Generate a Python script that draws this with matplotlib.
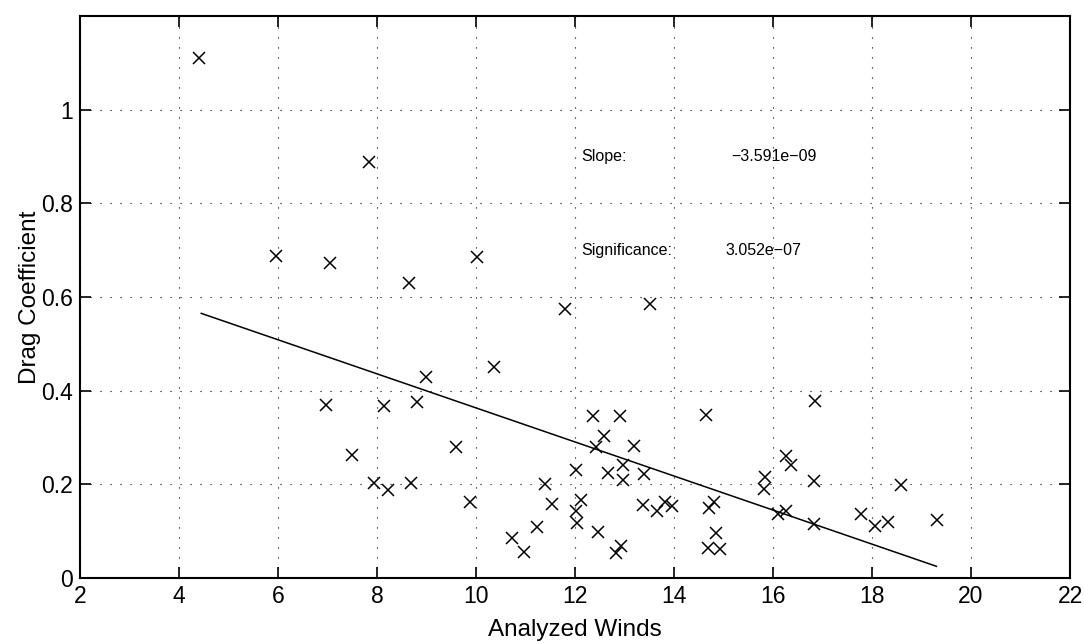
import matplotlib
matplotlib.use('Agg')

import matplotlib.pyplot as plt

plt.rcParams['font.family'] = ['Liberation Sans', 'DejaVu Sans']

# data
wind = [4.40, 5.95, 7.05, 7.83, 8.65, 10.03, 11.80, 13.52,
        6.96, 8.14, 8.81, 8.98, 10.37, 7.49, 9.59, 7.93, 8.22, 8.68, 9.87,
        10.72, 10.97, 11.23, 11.40, 11.53,
        12.03, 12.12, 12.03, 12.05, 12.36, 12.90, 12.59, 12.42, 13.19,
        12.97, 12.67, 12.97, 13.40, 12.47, 12.92, 12.82,
        13.37, 13.66, 13.81, 13.96,
        14.64, 14.70, 14.80, 14.85, 14.68, 14.93,
        15.84, 15.81, 16.27, 16.37, 16.82, 16.84, 16.10, 16.27, 16.82,
        17.78, 18.07, 18.33, 18.59, 19.31]
drag = [1.110, 0.687, 0.673, 0.888, 0.630, 0.685, 0.574, 0.585,
        0.370, 0.367, 0.376, 0.430, 0.450, 0.263, 0.280, 0.202, 0.188, 0.203, 0.163,
        0.086, 0.055, 0.109, 0.200, 0.157,
        0.230, 0.167, 0.142, 0.117, 0.346, 0.345, 0.304, 0.279, 0.282,
        0.241, 0.224, 0.209, 0.222, 0.099, 0.068, 0.054,
        0.155, 0.142, 0.162, 0.153,
        0.347, 0.150, 0.163, 0.095, 0.063, 0.062,
        0.215, 0.190, 0.261, 0.242, 0.208, 0.377, 0.136, 0.144, 0.116,
        0.136, 0.110, 0.119, 0.199, 0.123]

# regression line end points
fit_x = [4.45, 19.30]
fit_y = [0.565, 0.025]

xticks = [2, 4, 6, 8, 10, 12, 14, 16, 18, 20, 22]
yticks = [0, 0.2, 0.4, 0.6, 0.8, 1.0]
ytick_labels = ['0', '0.2', '0.4', '0.6', '0.8', '1']

fig = plt.figure(figsize=(10.84, 6.44), dpi=100)
ax = fig.add_axes([0.0738, 0.1025, 0.9133, 0.8727])

ax.plot(wind, drag, 'x', color='black', markersize=9, markeredgewidth=1.1)
ax.plot(fit_x, fit_y, '-', color='black', linewidth=1.1)

ax.set_xlim(2, 22)
ax.set_ylim(0, 1.2)
ax.set_xticks(xticks)
ax.set_yticks(yticks)
ax.set_yticklabels(ytick_labels)
ax.grid(True, color='black', linestyle=(0, (1, 8)), linewidth=0.8)

ax.tick_params(direction='in', length=8, width=1.2, top=True, right=True,
               labelsize=16.5, pad=5)
for s in ax.spines.values():
    s.set_linewidth(1.5)

ax.set_xlabel('Analyzed Winds', fontsize=17.5, labelpad=8)
ax.set_ylabel('Drag Coefficient', fontsize=17.5, labelpad=0)

ax.text(12.12, 0.9, 'Slope:', fontsize=11.5, va='center')
ax.text(15.15, 0.9, '\u22123.591e\u221209', fontsize=11.5, va='center')
ax.text(12.12, 0.7, 'Significance:', fontsize=11.5, va='center')
ax.text(15.03, 0.7, '3.052e\u221207', fontsize=11.5, va='center')

plt.savefig('out.png', dpi=100)
